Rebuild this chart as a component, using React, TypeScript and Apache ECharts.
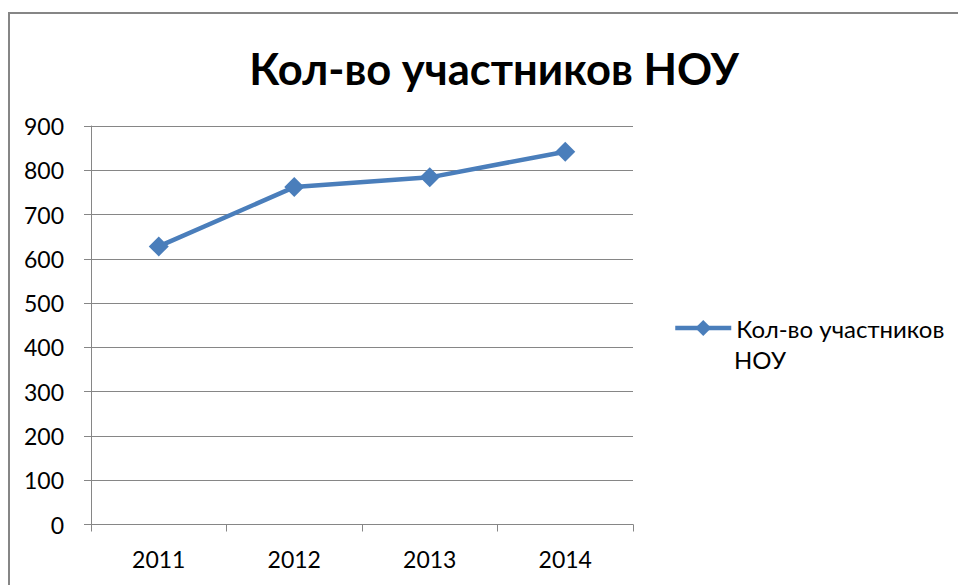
import React, { useEffect, useRef } from "react";
import * as echarts from "echarts";

const categories = ["2011", "2012", "2013", "2014"];
const seriesName = "Кол-во участников НОУ";
const values = [628, 762, 784, 842];
const titleText = "Кол-во участников НОУ";
const legendLine1 = "Кол-во участников";
const legendLine2 = "НОУ";

const FONT = "Lato";

export default function App() {
  const ref = useRef<HTMLDivElement>(null);
  useEffect(() => {
    if (!ref.current) return;
    const chart = echarts.init(ref.current, undefined, { renderer: "svg" });
    chart.setOption({
      animation: false,
      backgroundColor: "#ffffff",
      title: {
        text: titleText,
        left: 489,
        textAlign: "center",
        top: 41,
        textStyle: { fontFamily: FONT, fontWeight: "bold", fontSize: 43.5, color: "#000000" },
      },
      graphic: [
        {
          type: "rect",
          shape: { x: 9, y: 13, width: 1000, height: 700 },
          style: { fill: "none", stroke: "#868686", lineWidth: 2 },
          silent: true,
        },
        {
          type: "text",
          left: 734,
          top: 347,
          style: { text: legendLine2, fontFamily: FONT, fontSize: 24, fill: "#000000" },
          silent: true,
        },
      ],
      grid: { left: 91, right: 325, top: 126, bottom: 60.5 },
      legend: {
        left: 673,
        top: 313,
        padding: 0,
        itemWidth: 56,
        itemHeight: 20,
        data: [seriesName],
        formatter: () => legendLine1,
        lineStyle: { width: 4.5, color: "#4a7ebb" },
        itemStyle: { color: "#4a7ebb" },
        textStyle: {
          fontFamily: FONT,
          fontSize: 24,
          color: "#000000",
          lineHeight: 30,
        },
      },
      xAxis: {
        type: "category",
        data: categories,
        boundaryGap: true,
        axisLine: { lineStyle: { color: "#868686", width: 1 } },
        axisTick: { show: true, length: 7, lineStyle: { color: "#868686" } },
        axisLabel: { fontFamily: FONT, fontSize: 23, color: "#000000", margin: 23 },
      },
      yAxis: {
        type: "value",
        min: 0,
        max: 900,
        interval: 100,
        axisLine: { show: true, lineStyle: { color: "#868686", width: 1 } },
        axisTick: { show: true, length: 7, lineStyle: { color: "#868686" } },
        splitLine: { lineStyle: { color: "#868686", width: 1 } },
        axisLabel: { fontFamily: FONT, fontSize: 23, color: "#000000", margin: 27 },
      },
      series: [
        {
          name: seriesName,
          type: "line",
          data: values,
          symbol: "diamond",
          symbolSize: 20,
          lineStyle: { color: "#4a7ebb", width: 4.5 },
          itemStyle: { color: "#4a7ebb" },
        },
      ],
    });
    return () => chart.dispose();
  }, []);
  return (
    <div
      ref={ref}
      style={{ position: "fixed", left: 0, top: 0, width: 958, height: 585 }}
    />
  );
}
